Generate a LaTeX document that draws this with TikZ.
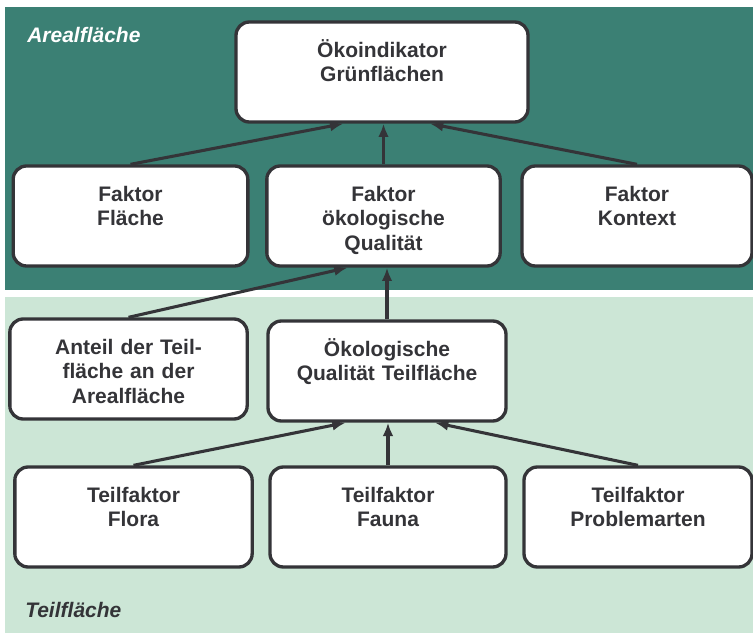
\documentclass[tikz,border=0pt]{standalone}
\usepackage{fontspec}
\setmainfont{Liberation Sans}
\usetikzlibrary{arrows.meta,positioning}
\definecolor{areal}{RGB}{59,128,116}
\definecolor{teil}{RGB}{204,230,214}
\definecolor{ink}{RGB}{52,52,56}

\begin{document}
\begin{tikzpicture}[x=.75pt,y=-.75pt,>={Latex[length=10pt,width=8pt]},
  box/.style={draw=ink,line width=2.5pt,rounded corners=10pt,fill=white,text=ink,
    font=\bfseries\fontsize{15.75}{18.4}\selectfont,align=center,text width=150pt,
    inner xsep=4pt,inner ysep=15pt,text height=11.3pt,text depth=33.7pt},
  arr/.style={->,draw=ink,line width=2.3pt},
  area/.style={font=\bfseries\itshape\fontsize{15.75}{18.4}\selectfont,anchor=base west,inner sep=0pt}]
\useasboundingbox (0,0) rectangle (753,634);
% the two areas
\fill[areal] (5,7) rectangle (753,290);
\fill[teil] (5,297) rectangle (753,633);
\node[area,text=white] (arealLabel) at (27,43) {Arealfläche};
\node[area,text=ink] (teilLabel) at (25,617) {Teilfläche};
% boxes
\node[box,minimum width=219pt] (oeko) at (382,72) {Ökoindikator\\Grünflächen};
\node[box,minimum width=176pt] (fflaeche) at (130.5,216) {Faktor\\Fläche};
\node[box,minimum width=175pt] (fquali) at (383.5,216) {Faktor\\ökologische\\Qualität};
\node[box,minimum width=172.5pt] (fkontext) at (637,216) {Faktor\\Kontext};
\node[box,minimum width=178pt] (anteil) at (128.5,369) {Anteil der Teil-\\fläche an der\\Arealfläche};
\node[box,minimum width=178.5pt] (oqt) at (387,371) {Ökologische\\Qualität Teilfläche};
\node[box,minimum width=178pt] (flora) at (133.5,517) {Teilfaktor\\Flora};
\node[box,minimum width=177pt] (fauna) at (388,517) {Teilfaktor\\Fauna};
\node[box,minimum width=171pt] (problem) at (638,517) {Teilfaktor\\Problemarten};
% arrows
\draw[arr] (fflaeche.north) -- ([xshift=-29pt]oeko.south);
\draw[arr] (fquali.north) -- (fquali.north |- oeko.south);
\draw[arr] (fkontext.north) -- ([xshift=36pt]oeko.south);
\draw[arr] (anteil.north) -- ([xshift=-27pt]fquali.south);
\draw[arr] (oqt.north) -- (oqt.north |- fquali.south);
\draw[arr] (flora.north) -- ([xshift=-31pt]oqt.south);
\draw[arr] (fauna.north) -- (fauna.north |- oqt.south);
\draw[arr] (problem.north) -- ([xshift=36pt]oqt.south);
\end{tikzpicture}
\end{document}
